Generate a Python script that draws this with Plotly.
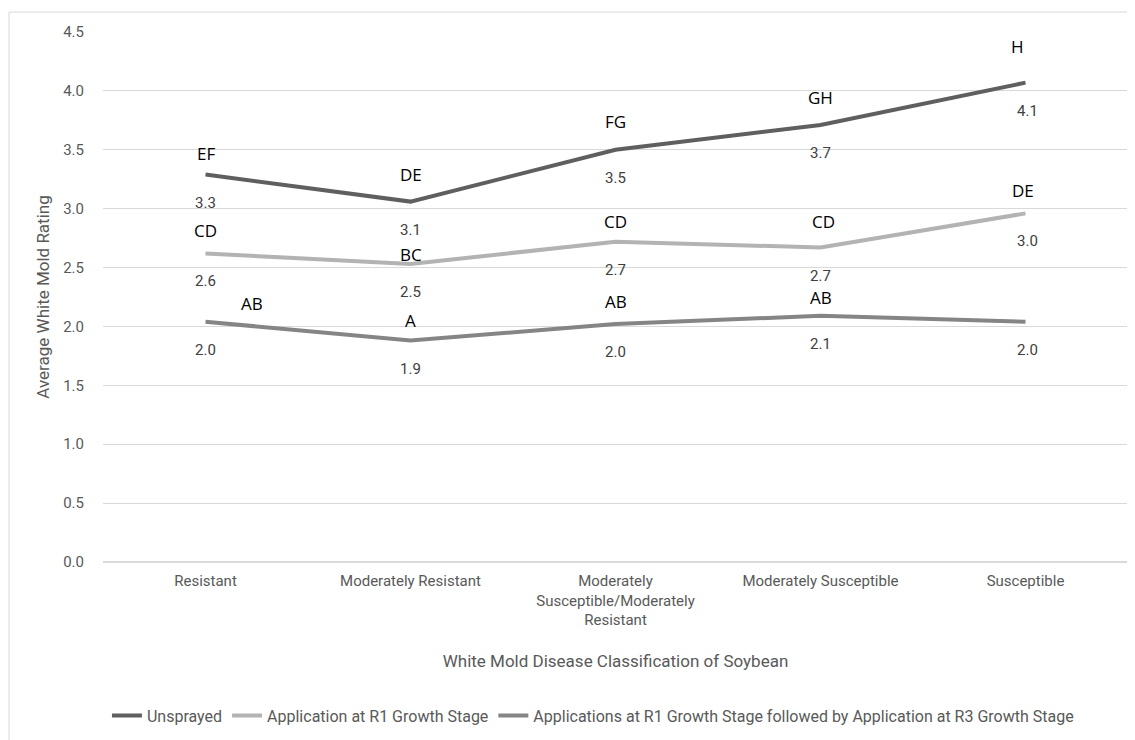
import plotly.graph_objects as go

categories = ["Resistant", "Moderately Resistant",
              "Moderately<br>Susceptible/Moderately<br>Resistant",
              "Moderately Susceptible", "Susceptible"]
series_names = ["Unsprayed", "Application at R1 Growth Stage",
                "Applications at R1 Growth Stage followed by Application at R3 Growth Stage"]
unsprayed = [3.29, 3.06, 3.50, 3.71, 4.07]
r1 = [2.62, 2.53, 2.72, 2.67, 2.96]
r1_r3 = [2.04, 1.88, 2.02, 2.09, 2.04]
letters_unsprayed = ["EF", "DE", "FG", "GH", "H"]
letters_r1 = ["CD", "BC", "CD", "CD", "DE"]
letters_r1_r3 = ["AB", "A", "AB", "AB", ""]

colors = ["#5f5f5f", "#b3b3b3", "#858585"]
# letter label pixel offsets (dx, dy) relative to each point
letter_offsets = [
    [(0, 21), (0, 27), (0, 28), (0, 28), (-8, 36)],
    [(0, 23), (0, 10), (0, 20), (3, 26), (-3, 23)],
    [(46, 18), (0, 20), (0, 23), (0, 18), (0, 0)],
]
value_offset = -28

series = [unsprayed, r1, r1_r3]
letters = [letters_unsprayed, letters_r1, letters_r1_r3]

narrow = "Roboto, sans-serif"

fig = go.Figure()
for name, vals, col in zip(series_names, series, colors):
    fig.add_trace(go.Scatter(x=categories, y=vals, mode="lines", name=name,
                             line=dict(color=col, width=4), hoverinfo="y"))

annotations = []
for vals, labs, offs in zip(series, letters, letter_offsets):
    for i, (c, v) in enumerate(zip(categories, vals)):
        annotations.append(dict(x=c, y=v, text=f"{v:.1f}", showarrow=False,
                                yshift=value_offset, xshift=(2 if i == 4 else 0),
                                font=dict(family=narrow, size=15, color="#404040")))
        if labs[i]:
            annotations.append(dict(x=c, y=v, text=labs[i], showarrow=False,
                                    xshift=offs[i][0], yshift=offs[i][1],
                                    font=dict(family="Open Sans, sans-serif", size=17, color="#000000")))

fig.update_layout(
    width=1127, height=732,
    margin=dict(l=95, r=7, t=24, b=176),
    plot_bgcolor="white", paper_bgcolor="white",
    font=dict(family=narrow, size=15, color="#595959"),
    showlegend=True,
    legend=dict(orientation="h", x=0.478, xanchor="center", y=-0.29, yanchor="middle",
                font=dict(family=narrow, size=16, color="#595959"), itemwidth=30,
                traceorder="normal"),
    annotations=annotations,
    xaxis=dict(type="category", range=[-0.5, 4.5], showgrid=False, showline=False,
               ticks="", ticklabelstandoff=8,
               tickfont=dict(family=narrow, size=15, color="#595959"),
               title=dict(text="White Mold Disease Classification of Soybean",
                          font=dict(family=narrow, size=17, color="#595959"), standoff=27),
               fixedrange=True),
    yaxis=dict(range=[0, 4.5], dtick=0.5, tickformat=".1f", showgrid=True,
               gridcolor="#d9d9d9", gridwidth=1, zeroline=True, zerolinecolor="#d9d9d9",
               showline=False, ticks="", ticklabelstandoff=18,
               tickfont=dict(family=narrow, size=15, color="#595959"),
               title=dict(text="Average White Mold Rating",
                          font=dict(family=narrow, size=17, color="#595959"), standoff=9),
               fixedrange=True),
    shapes=[dict(type="rect", xref="paper", yref="paper", x0=-0.0917, x1=1.005,
                 y0=-0.34, y1=1.0376, line=dict(color="#d9d9d9", width=1), layer="below")],
)

fig.write_html("out.html")
